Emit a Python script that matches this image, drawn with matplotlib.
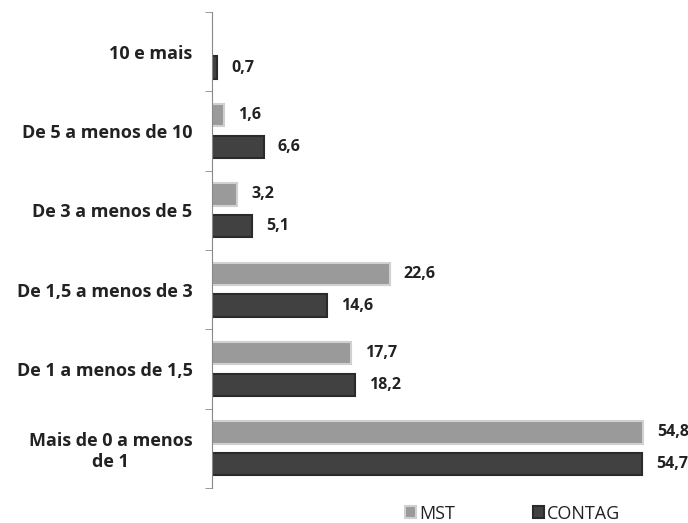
import numpy as np
import matplotlib.pyplot as plt

categorias = ["Mais de 0 a menos\nde 1", "De 1 a menos de 1,5", "De 1,5 a menos de 3",
              "De 3 a menos de 5", "De 5 a menos de 10", "10 e mais"]
mst = [54.8, 17.7, 22.6, 3.2, 1.6, None]
contag = [54.7, 18.2, 14.6, 5.1, 6.6, 0.7]

fig = plt.figure(figsize=(6.88, 5.23), dpi=100)
ax = fig.add_axes([0.308, 0.067, 0.686, 0.910])

y = np.arange(len(categorias))
h = 0.28
off = 0.2

mst_vals = [v if v is not None else 0 for v in mst]
b1 = ax.barh(y + off, mst_vals, height=h, color="#9a9a9a", edgecolor="#d0d0d0",
             linewidth=1.5, label="MST")
b2 = ax.barh(y - off, contag, height=h, color="#414141", edgecolor="#2a2a2a",
             linewidth=1.5, label="CONTAG")

def fmt(v):
    return f"{v:.1f}".replace(".", ",")

for yi, v in zip(y, mst):
    if v is not None:
        ax.annotate(fmt(v), (v, yi + off), xytext=(10, 0), textcoords="offset points",
                    va="center", ha="left", fontsize=11.5, fontweight="bold",
                    family="Open Sans", color="#222222")
for yi, v in zip(y, contag):
    ax.annotate(fmt(v), (v, yi - off), xytext=(10, 0), textcoords="offset points",
                va="center", ha="left", fontsize=11.5, fontweight="bold",
                family="Open Sans", color="#222222")

ax.set_xlim(0, 60)
ax.set_ylim(-0.5, len(categorias) - 0.5)
ax.set_yticks(y)
ax.set_yticklabels(categorias, fontsize=13, fontweight="bold", family="Open Sans",
                   color="#222222", multialignment="center")
ax.set_yticks(np.arange(-0.5, len(categorias), 1), minor=True)
ax.tick_params(axis="y", which="major", length=0, pad=14)
ax.tick_params(axis="y", which="minor", length=5, color="#888888")
ax.set_xticks([])
for s in ["top", "right", "bottom"]:
    ax.spines[s].set_visible(False)
ax.spines["left"].set_color("#888888")

leg = fig.legend(handles=[b1, b2], labels=["MST", "CONTAG"], loc="center",
                 bbox_to_anchor=(0.745, 0.018), ncol=2, frameon=False,
                 prop={"family": "Open Sans", "size": 13}, handlelength=0.6,
                 handleheight=0.6, columnspacing=4.3, handletextpad=0.2)
for t in leg.get_texts():
    t.set_color("#222222")

fig.savefig("out.png", dpi=100)
